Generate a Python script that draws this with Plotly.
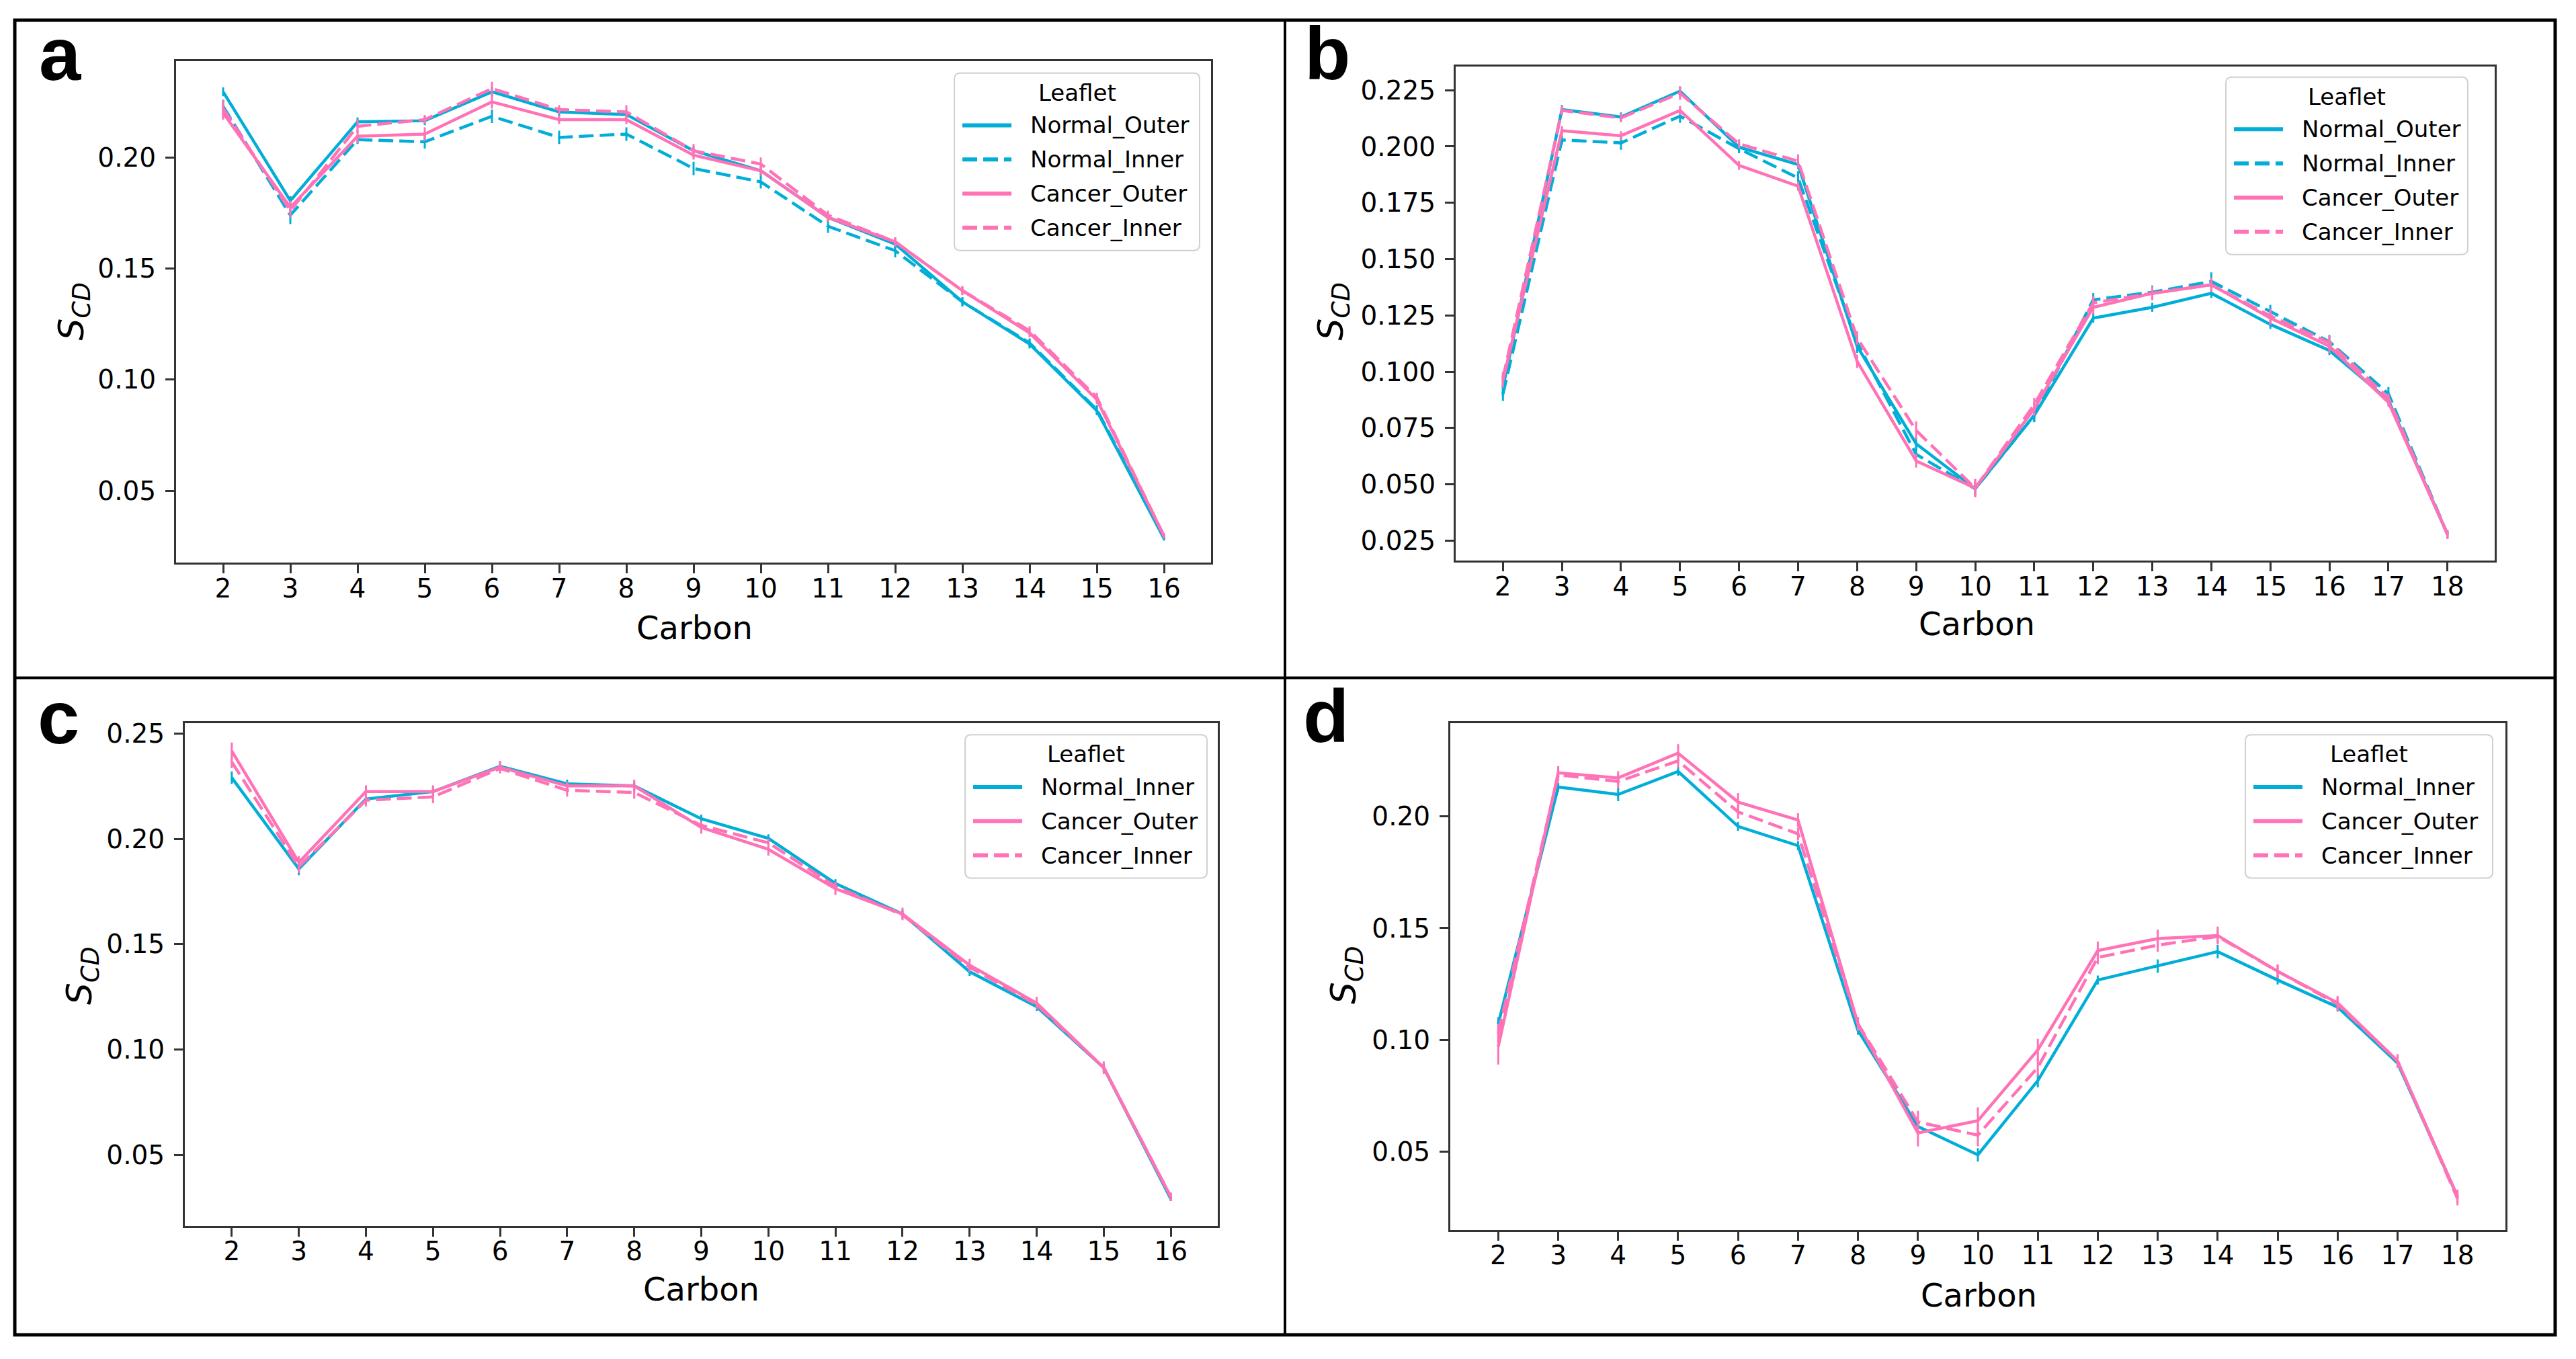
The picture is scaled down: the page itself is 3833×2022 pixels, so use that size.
import plotly.graph_objects as go

W, H = 3833, 2022

# ---------------- data ----------------
carbon_16 = [2, 3, 4, 5, 6, 7, 8, 9, 10, 11, 12, 13, 14, 15, 16]
carbon_18 = [2, 3, 4, 5, 6, 7, 8, 9, 10, 11, 12, 13, 14, 15, 16, 17, 18]

# panel a
a_normal_outer = [0.2295, 0.1805, 0.2160, 0.2165, 0.2295, 0.2205, 0.2193, 0.2030, 0.1940, 0.1730, 0.1610, 0.1350, 0.1160, 0.0860, 0.0285]
a_normal_inner = [0.2230, 0.1740, 0.2080, 0.2070, 0.2185, 0.2090, 0.2105, 0.1950, 0.1890, 0.1690, 0.1580, 0.1350, 0.1165, 0.0865, 0.0290]
a_cancer_outer = [0.2200, 0.1775, 0.2095, 0.2105, 0.2250, 0.2170, 0.2170, 0.2010, 0.1940, 0.1730, 0.1620, 0.1400, 0.1210, 0.0910, 0.0296]
a_cancer_inner = [0.2220, 0.1760, 0.2140, 0.2170, 0.2310, 0.2215, 0.2205, 0.2030, 0.1970, 0.1740, 0.1620, 0.1400, 0.1220, 0.0920, 0.0296]
a_normal_outer_err = [0.002, 0.002, 0.002, 0.002, 0.002, 0.002, 0.002, 0.002, 0.002, 0.002, 0.002, 0.002, 0.002, 0.002, 0.001]
a_normal_inner_err = [0.003, 0.004, 0.002, 0.003, 0.003, 0.003, 0.003, 0.003, 0.003, 0.003, 0.003, 0.002, 0.002, 0.002, 0.001]
a_cancer_outer_err = [0.003, 0.003, 0.003, 0.003, 0.003, 0.002, 0.002, 0.002, 0.002, 0.002, 0.002, 0.002, 0.002, 0.002, 0.001]
a_cancer_inner_err = [0.004, 0.003, 0.003, 0.002, 0.003, 0.002, 0.003, 0.003, 0.003, 0.002, 0.002, 0.002, 0.002, 0.002, 0.001]

# panel b
b_normal_outer = [0.093, 0.2164, 0.2131, 0.2246, 0.1997, 0.1920, 0.1113, 0.0680, 0.0480, 0.0806, 0.1238, 0.1286, 0.1348, 0.1210, 0.1094, 0.0873, 0.0278]
b_normal_inner = [0.090, 0.2029, 0.2016, 0.2135, 0.1990, 0.1860, 0.1130, 0.0633, 0.0480, 0.0806, 0.1319, 0.1353, 0.1401, 0.1267, 0.1133, 0.0902, 0.0278]
b_cancer_outer = [0.096, 0.2070, 0.2048, 0.2160, 0.1916, 0.1824, 0.1046, 0.0604, 0.0483, 0.0835, 0.1286, 0.1348, 0.1386, 0.1238, 0.1113, 0.0864, 0.0278]
b_cancer_inner = [0.097, 0.2160, 0.2127, 0.2237, 0.2012, 0.1935, 0.1150, 0.0739, 0.0483, 0.0854, 0.1306, 0.1348, 0.1386, 0.1248, 0.1129, 0.0883, 0.0278]
b_normal_outer_err = [0.004, 0.002, 0.002, 0.002, 0.002, 0.002, 0.003, 0.003, 0.003, 0.003, 0.002, 0.002, 0.002, 0.002, 0.002, 0.002, 0.001]
b_normal_inner_err = [0.003, 0.002, 0.003, 0.003, 0.002, 0.003, 0.003, 0.004, 0.003, 0.003, 0.003, 0.003, 0.004, 0.003, 0.003, 0.003, 0.002]
b_cancer_outer_err = [0.003, 0.002, 0.002, 0.002, 0.002, 0.002, 0.003, 0.003, 0.004, 0.003, 0.003, 0.003, 0.003, 0.003, 0.003, 0.002, 0.002]
b_cancer_inner_err = [0.003, 0.002, 0.002, 0.003, 0.002, 0.003, 0.003, 0.004, 0.004, 0.003, 0.003, 0.003, 0.003, 0.003, 0.003, 0.002, 0.002]

# panel c
c_normal_inner = [0.2290, 0.1857, 0.2189, 0.2224, 0.2344, 0.2261, 0.2251, 0.2095, 0.2002, 0.1788, 0.1643, 0.1369, 0.1203, 0.0913, 0.0290]
c_cancer_outer = [0.2417, 0.1888, 0.2224, 0.2224, 0.2340, 0.2251, 0.2251, 0.2054, 0.1950, 0.1763, 0.1643, 0.1400, 0.1220, 0.0913, 0.0300]
c_cancer_inner = [0.2365, 0.1867, 0.2183, 0.2199, 0.2334, 0.2230, 0.2220, 0.2064, 0.1981, 0.1774, 0.1639, 0.1390, 0.1213, 0.0913, 0.0300]
c_normal_inner_err = [0.003, 0.003, 0.002, 0.002, 0.002, 0.002, 0.002, 0.002, 0.002, 0.002, 0.002, 0.002, 0.002, 0.002, 0.001]
c_cancer_outer_err = [0.004, 0.003, 0.003, 0.003, 0.003, 0.002, 0.003, 0.003, 0.003, 0.003, 0.003, 0.003, 0.003, 0.003, 0.002]
c_cancer_inner_err = [0.003, 0.003, 0.003, 0.003, 0.002, 0.003, 0.003, 0.002, 0.002, 0.002, 0.002, 0.002, 0.002, 0.002, 0.002]

# panel d
d_normal_inner = [0.1072, 0.2131, 0.2098, 0.2201, 0.1955, 0.1869, 0.1043, 0.0613, 0.0486, 0.0818, 0.1268, 0.1330, 0.1395, 0.1268, 0.1147, 0.0897, 0.0300]
d_cancer_outer = [0.0970, 0.2195, 0.2172, 0.2283, 0.2064, 0.1984, 0.1072, 0.0584, 0.0639, 0.0955, 0.1400, 0.1453, 0.1467, 0.1307, 0.1166, 0.0906, 0.0300]
d_cancer_inner = [0.1030, 0.2186, 0.2156, 0.2248, 0.2020, 0.1922, 0.1072, 0.0633, 0.0574, 0.0877, 0.1369, 0.1424, 0.1463, 0.1307, 0.1160, 0.0906, 0.0290]
d_normal_inner_err = [0.003, 0.002, 0.003, 0.002, 0.002, 0.002, 0.002, 0.003, 0.003, 0.003, 0.002, 0.003, 0.003, 0.002, 0.002, 0.002, 0.001]
d_cancer_outer_err = [0.008, 0.003, 0.003, 0.004, 0.004, 0.003, 0.003, 0.006, 0.006, 0.005, 0.004, 0.004, 0.004, 0.003, 0.003, 0.003, 0.003]
d_cancer_inner_err = [0.004, 0.003, 0.003, 0.003, 0.003, 0.003, 0.003, 0.005, 0.005, 0.004, 0.003, 0.003, 0.003, 0.003, 0.003, 0.003, 0.003]

panel_letters = ["a", "b", "c", "d"]
x_title = "Carbon"
y_title = "<i>S</i><sub><i>CD</i></sub>"
legend_title = "Leaflet"

# ---------------- styles ----------------
NORMAL = "#00AED8"
CANCER = "#FF72B6"
FONT = "DejaVu Sans"
DASH = "22px,9px"


def px_x(p):
    return p / W


def px_y(p):
    return 1 - p / H


def rounded_rect(l, t, r, b, rad):
    x0, x1 = px_x(l), px_x(r)
    y0, y1 = px_y(b), px_y(t)
    rx, ry = rad / W, rad / H
    return (f"M{x0 + rx},{y1} L{x1 - rx},{y1} Q{x1},{y1} {x1},{y1 - ry} "
            f"L{x1},{y0 + ry} Q{x1},{y0} {x1 - rx},{y0} "
            f"L{x0 + rx},{y0} Q{x0},{y0} {x0},{y0 + ry} "
            f"L{x0},{y1 - ry} Q{x0},{y1} {x0 + rx},{y1} Z")


# panel geometry in pixels: left, right, top, bottom
panels = [
    dict(box=(262, 1802, 84, 833), xr=[1.3, 16.7], yr=[0.0176, 0.2434], dtick=0.05, fmt=".2f",
         xt=(1033, 930), yt=(110, 458), letter=(56, 74), leg=(1420, 102, 365),
         series=[("Normal_Outer", carbon_16, a_normal_outer, a_normal_outer_err, NORMAL, "solid"),
                 ("Normal_Inner", carbon_16, a_normal_inner, a_normal_inner_err, NORMAL, DASH),
                 ("Cancer_Outer", carbon_16, a_cancer_outer, a_cancer_outer_err, CANCER, "solid"),
                 ("Cancer_Inner", carbon_16, a_cancer_inner, a_cancer_inner_err, CANCER, DASH)]),
    dict(box=(2166, 3712, 92, 830), xr=[1.2, 18.8], yr=[0.0161, 0.2356], dtick=0.025, fmt=".3f",
         xt=(2941, 924), yt=(1984, 458), letter=(1939, 73), leg=(3312, 108, 360),
         series=[("Normal_Outer", carbon_18, b_normal_outer, b_normal_outer_err, NORMAL, "solid"),
                 ("Normal_Inner", carbon_18, b_normal_inner, b_normal_inner_err, NORMAL, DASH),
                 ("Cancer_Outer", carbon_18, b_cancer_outer, b_cancer_outer_err, CANCER, "solid"),
                 ("Cancer_Inner", carbon_18, b_cancer_inner, b_cancer_inner_err, CANCER, DASH)]),
    dict(box=(275, 1812, 1073, 1823), xr=[1.3, 16.7], yr=[0.0163, 0.2548], dtick=0.05, fmt=".2f",
         xt=(1043, 1918), yt=(122, 1450), letter=(54, 1064), leg=(1436, 1090, 360),
         series=[("Normal_Inner", carbon_16, c_normal_inner, c_normal_inner_err, NORMAL, "solid"),
                 ("Cancer_Outer", carbon_16, c_cancer_outer, c_cancer_outer_err, CANCER, "solid"),
                 ("Cancer_Inner", carbon_16, c_cancer_inner, c_cancer_inner_err, CANCER, DASH)]),
    dict(box=(2158, 3728, 1073, 1829), xr=[1.2, 18.8], yr=[0.0151, 0.2416], dtick=0.05, fmt=".2f",
         xt=(2944, 1927), yt=(2003, 1449), letter=(1937, 1062), leg=(3341, 1090, 368),
         series=[("Normal_Inner", carbon_18, d_normal_inner, d_normal_inner_err, NORMAL, "solid"),
                 ("Cancer_Outer", carbon_18, d_cancer_outer, d_cancer_outer_err, CANCER, "solid"),
                 ("Cancer_Inner", carbon_18, d_cancer_inner, d_cancer_inner_err, CANCER, DASH)]),
]

fig = go.Figure()
layout = dict(
    width=W, height=H, autosize=False,
    margin=dict(l=0, r=0, t=0, b=0),
    paper_bgcolor="white", plot_bgcolor="white",
    showlegend=False,
    font=dict(family=FONT, color="black"),
)
annotations = []
shapes = []

for i, p in enumerate(panels):
    n = "" if i == 0 else str(i + 1)
    xa, ya = "x" + n, "y" + n
    l, r, t, b = p["box"]
    axis_common = dict(
        showline=True, mirror=True, linecolor="#333333", linewidth=3,
        showgrid=False, zeroline=False,
        ticks="outside", ticklen=13, tickwidth=3, tickcolor="#333333",
        tickfont=dict(family=FONT, size=39, color="black"),
    )
    layout["xaxis" + n] = dict(
        axis_common, domain=[px_x(l), px_x(r)], range=p["xr"],
        anchor=ya, tickmode="array", tickvals=p["series"][0][1],
        ticklabelstandoff=-11,
    )
    layout["yaxis" + n] = dict(
        axis_common, domain=[px_y(b), px_y(t)], range=p["yr"],
        anchor=xa, dtick=p["dtick"], tick0=0, tickformat=p["fmt"],
        ticklabelstandoff=6,
    )
    for (name, xs, ys, errs, color, dash) in p["series"]:
        fig.add_trace(go.Scatter(
            x=xs, y=ys, mode="lines", name=name,
            line=dict(color=color, width=4.5, dash=dash),
            error_y=dict(type="data", array=errs, visible=True, width=0, thickness=3, color=color),
            xaxis=xa, yaxis=ya,
        ))

    # legend (drawn box, title, samples, labels)
    L, T, LW = p["leg"]
    nser = len(p["series"])
    LH = 78 + 51 * (nser - 1) + 34
    shapes.append(dict(type="path", xref="paper", yref="paper",
                       path=rounded_rect(L, T, L + LW, T + LH, 9),
                       fillcolor="rgba(255,255,255,0.85)", line=dict(color="#d0d0d0", width=2)))
    annotations.append(dict(
        text=legend_title, x=px_x(L + LW / 2), y=px_y(T + 29), xref="paper", yref="paper",
        xanchor="center", yanchor="middle", showarrow=False,
        font=dict(family=FONT, size=34, color="black"),
    ))
    for k, (name, xs, ys, errs, color, dash) in enumerate(p["series"]):
        yy = T + 78 + 51 * k
        shapes.append(dict(type="line", xref="paper", yref="paper",
                           x0=px_x(L + 12), x1=px_x(L + 85), y0=px_y(yy), y1=px_y(yy),
                           line=dict(color=color, width=6, dash=dash)))
        annotations.append(dict(
            text=name, x=px_x(L + 111), y=px_y(yy), xref="paper", yref="paper",
            xanchor="left", yanchor="middle", showarrow=False,
            font=dict(family=FONT, size=34, color="black"),
        ))

    # axis titles
    annotations.append(dict(
        text=x_title, x=px_x(p["xt"][0]), y=px_y(p["xt"][1]), xref="paper", yref="paper",
        xanchor="center", yanchor="middle", showarrow=False,
        font=dict(family=FONT, size=48, color="black"),
    ))
    annotations.append(dict(
        text=y_title, x=px_x(p["yt"][0]), y=px_y(p["yt"][1]), xref="paper", yref="paper",
        xanchor="center", yanchor="middle", showarrow=False, textangle=-90,
        font=dict(family=FONT, size=52, color="black"),
    ))
    annotations.append(dict(
        text=panel_letters[i], x=px_x(p["letter"][0]), y=px_y(p["letter"][1]),
        xref="paper", yref="paper", xanchor="left", yanchor="middle", showarrow=False,
        font=dict(family="Liberation Sans", size=112, color="black", weight="bold"),
    ))

# outer frame and dividers
BL, BR, BT, BB = 22, 3802, 23, 1986
VX, HY = 1912, 1005
shapes += [
    dict(type="rect", xref="paper", yref="paper", x0=px_x(BL), x1=px_x(BR), y0=px_y(BB), y1=px_y(BT),
         line=dict(color="black", width=5)),
    dict(type="line", xref="paper", yref="paper", x0=px_x(VX), x1=px_x(VX), y0=px_y(BB), y1=px_y(BT),
         line=dict(color="black", width=4)),
    dict(type="line", xref="paper", yref="paper", x0=px_x(BL), x1=px_x(BR), y0=px_y(HY), y1=px_y(HY),
         line=dict(color="black", width=4)),
]

layout["annotations"] = annotations
layout["shapes"] = shapes

fig.update_layout(**layout)
fig.write_html("out.html", config={"displayModeBar": False},
               post_script="document.body.style.margin='0';")
